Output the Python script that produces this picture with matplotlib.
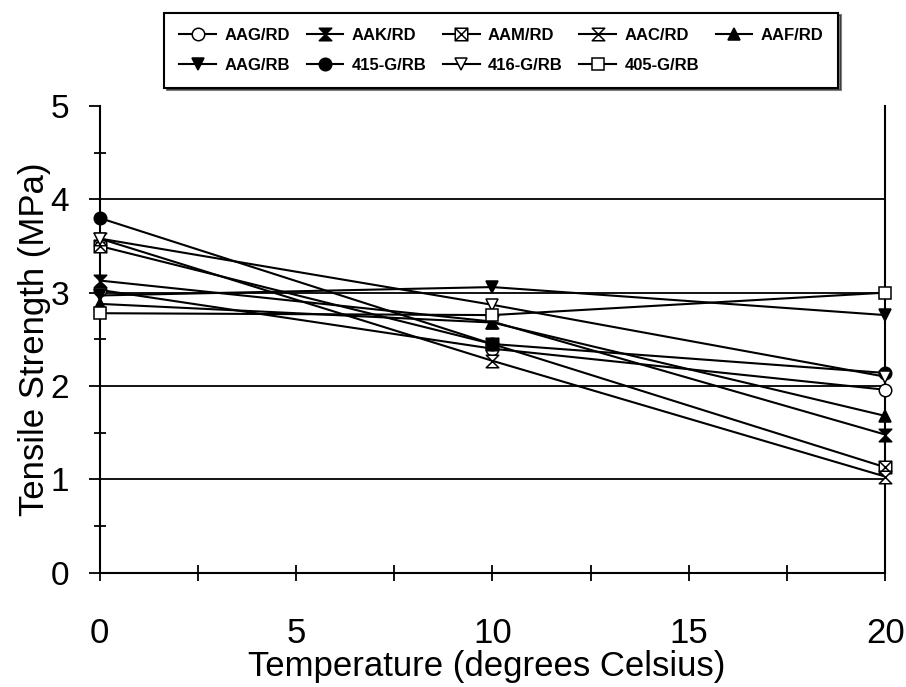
import matplotlib
matplotlib.use("Agg")
import matplotlib.pyplot as plt
import numpy as np
from matplotlib.path import Path

plt.rcParams['font.family'] = ['Liberation Sans', 'DejaVu Sans']

# temperatures (degrees Celsius)
temps = [0, 10, 20]

# tensile strength (MPa) per mix
aag_rd = [3.03, 2.40, 1.96]
aak_rd = [3.13, 2.69, 1.48]
aam_rd = [3.50, 2.45, 1.13]
aac_rd = [3.58, 2.27, 1.03]
aaf_rd = [2.88, 2.68, 1.68]
aag_rb = [2.97, 3.06, 2.76]
g415_rb = [3.80, 2.45, 2.14]
g416_rb = [3.58, 2.87, 2.10]
g405_rb = [2.78, 2.76, 3.00]

labels = ["AAG/RD", "AAK/RD", "AAM/RD", "AAC/RD", "AAF/RD",
          "AAG/RB", "415-G/RB", "416-G/RB", "405-G/RB"]
series = [aag_rd, aak_rd, aam_rd, aac_rd, aaf_rd,
          aag_rb, g415_rb, g416_rb, g405_rb]

# custom markers
bowtie = Path([(-1, 1), (1, 1), (0, 0), (1, -1), (-1, -1), (0, 0), (-1, 1)],
              [Path.MOVETO, Path.LINETO, Path.LINETO, Path.LINETO,
               Path.LINETO, Path.LINETO, Path.CLOSEPOLY])
hourglass = Path([(-1, 1), (1, 1), (-1, -1), (1, -1), (-1, 1)],
                 [Path.MOVETO, Path.LINETO, Path.LINETO, Path.LINETO, Path.CLOSEPOLY])
boxx = Path([(-1, -1), (1, -1), (1, 1), (-1, 1), (-1, -1),
             (-1, -1), (1, 1), (-1, 1), (1, -1)],
            [Path.MOVETO, Path.LINETO, Path.LINETO, Path.LINETO, Path.CLOSEPOLY,
             Path.MOVETO, Path.LINETO, Path.MOVETO, Path.LINETO])

styles = [
    ('o', 'white', 9),
    (bowtie, 'black', 9),
    (boxx, 'white', 9),
    (hourglass, 'white', 9),
    ('^', 'black', 9),
    ('v', 'black', 9),
    ('o', 'black', 9),
    ('v', 'white', 9),
    ('s', 'white', 9),
]

fig = plt.figure(figsize=(9.06, 6.87), dpi=100)
ax = fig.add_axes([0.110, 0.1664, 0.867, 0.6793])

handles = []
for lab, vals, (mk, fc, ms) in zip(labels, series, styles):
    h, = ax.plot(temps, vals, color='black', lw=1.5, marker=mk, markersize=ms,
                 markerfacecolor=fc, markeredgecolor='black', markeredgewidth=1.1,
                 label=lab, zorder=3, clip_on=False)
    handles.append(h)

ax.set_xlim(0, 20)
ax.set_ylim(0, 5)
for yv in [1, 2, 3, 4]:
    ax.axhline(yv, color='black', lw=1.3, zorder=1)

ax.set_xticks([0, 5, 10, 15, 20])
ax.set_xticks(np.arange(2.5, 20, 5), minor=True)
ax.set_yticks([0, 1, 2, 3, 4, 5])
ax.set_yticks(np.arange(0.5, 5, 1), minor=True)
ax.tick_params(axis='x', which='major', direction='inout', length=12, width=1.3,
               labelsize=25, pad=26)
ax.tick_params(axis='x', which='minor', direction='inout', length=12, width=1.3)
ax.tick_params(axis='y', which='major', direction='out', length=8, width=1.3,
               labelsize=24, pad=14)
ax.tick_params(axis='y', which='minor', direction='inout', length=8, width=1.3)

for s in ['left', 'bottom', 'right']:
    ax.spines[s].set_linewidth(1.5)
ax.spines['top'].set_visible(False)

ax.set_xlabel('Temperature (degrees Celsius)', fontsize=25)
ax.set_ylabel('Tensile Strength (MPa)', fontsize=25)
ax.xaxis.set_label_coords(0.493, -0.165)
ax.yaxis.set_label_coords(-0.062, 0.5)

# legend fills column by column, so reorder to get row-wise layout
order = [0, 5, 1, 6, 2, 7, 3, 8, 4]
leg = fig.legend([handles[i] for i in order], [labels[i] for i in order],
                 loc='center', bbox_to_anchor=(0.5535, 0.927), ncol=5,
                 fancybox=False, shadow={'color': 'black'}, edgecolor='black',
                 framealpha=1, prop={'weight': 'bold', 'size': 12},
                 handlelength=2.2, columnspacing=1.0, handletextpad=0.5,
                 borderpad=0.9, labelspacing=0.9)
leg.get_frame().set_linewidth(1.5)

fig.savefig('out.png', dpi=100)
